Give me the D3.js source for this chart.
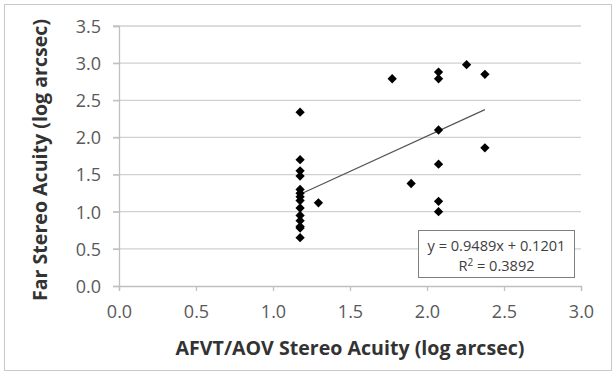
<!DOCTYPE html>
<html><head><meta charset="utf-8">
<script src="https://cdn.jsdelivr.net/npm/d3@7"></script>
<style>body{margin:0;background:#fff}</style>
</head><body>
<svg id="c" width="615" height="375"></svg>
<script>
const xValues = [1.176,1.176,1.176,1.176,1.176,1.176,1.176,1.176,1.176,1.176,1.176,1.176,1.176,1.176,1.295,1.774,2.075,2.075,2.257,2.376,2.075,2.376,2.075,1.897,2.075,2.075];
const yValues = [2.34,1.70,1.55,1.48,1.30,1.25,1.20,1.15,1.05,0.95,0.88,0.80,0.78,0.65,1.12,2.79,2.88,2.79,2.98,2.85,2.10,1.86,1.64,1.38,1.14,1.00];
const xTicks = [0,0.5,1.0,1.5,2.0,2.5,3.0];
const yTicks = [0,0.5,1.0,1.5,2.0,2.5,3.0,3.5];
const slope = 0.9489, intercept = 0.1201, r2 = 0.3892;

const svg = d3.select("#c");
const font = "Open Sans, Noto Sans, sans-serif";
svg.append("rect").attr("x",4.5).attr("y",4.5).attr("width",607).attr("height",366)
  .attr("fill","#fff").attr("stroke","#c8c8c8");

const x = d3.scaleLinear().domain([0,3]).range([119,581]);
const y = d3.scaleLinear().domain([0,3.5]).range([286,26]);

// gridlines
svg.append("g").selectAll("line").data(yTicks.slice(1)).join("line")
  .attr("x1",113).attr("x2",581).attr("y1",d=>y(d)).attr("y2",d=>y(d))
  .attr("stroke","#d0d0d0").attr("stroke-width",1.3);

// axes
const xa = svg.append("g").attr("transform","translate(0,286)")
  .call(d3.axisBottom(x).tickValues(xTicks).tickFormat(d3.format(".1f")).tickSizeOuter(0).tickSize(5).tickPadding(14));
const ya = svg.append("g").attr("transform","translate(119,0)")
  .call(d3.axisLeft(y).tickValues(yTicks).tickFormat(d3.format(".1f")).tickSizeOuter(0).tickSize(6).tickPadding(12));
[xa,ya].forEach(a=>{
  a.select(".domain").attr("stroke","#c0c0c0").attr("stroke-width",1.3);
  a.selectAll(".tick line").attr("stroke","#c0c0c0").attr("stroke-width",1.3);
  a.selectAll("text").attr("fill","#595959").attr("font-size",18).attr("font-family",font);
});
ya.selectAll("text").attr("dy","0.35em");

// trendline
const xmin = d3.min(xValues), xmax = d3.max(xValues);
svg.append("line").attr("x1",x(xmin)).attr("y1",y(slope*xmin+intercept))
  .attr("x2",x(xmax)).attr("y2",y(slope*xmax+intercept))
  .attr("stroke","#555").attr("stroke-width",1.2);

// points
const diamond = d3.symbol().type(d3.symbolDiamond2).size(55);
svg.append("g").selectAll("path").data(xValues.map((v,i)=>[v,yValues[i]])).join("path")
  .attr("d",diamond).attr("transform",d=>`translate(${x(d[0])},${y(d[1])})`).attr("fill","#000");

// equation box
svg.append("rect").attr("x",418.5).attr("y",230.5).attr("width",156).attr("height",47)
  .attr("fill","#fff").attr("stroke","#7f7f7f").attr("stroke-width",1);
const eq = svg.append("text").attr("font-family",font).attr("font-size",14.6).attr("fill","#404040").attr("text-anchor","middle");
eq.append("tspan").attr("x",496.5).attr("y",251).text(`y = ${slope}x + ${intercept}`);
const r = eq.append("tspan").attr("x",496.5).attr("y",271);
r.append("tspan").text("R");
r.append("tspan").attr("font-size",10).attr("dy",-5).text("2");
r.append("tspan").attr("dy",5).text(` = ${r2}`);

// axis titles
svg.append("text").attr("x",350).attr("y",355).attr("text-anchor","middle")
  .attr("font-family",font).attr("font-weight","bold").attr("font-size",19.6).attr("fill","#333")
  .text("AFVT/AOV Stereo Acuity (log arcsec)");
svg.append("text").attr("transform","translate(46.5,160) rotate(-90)").attr("text-anchor","middle")
  .attr("font-family",font).attr("font-weight","bold").attr("font-size",19.6).attr("fill","#333")
  .text("Far Stereo Acuity (log arcsec)");
</script>
</body></html>
